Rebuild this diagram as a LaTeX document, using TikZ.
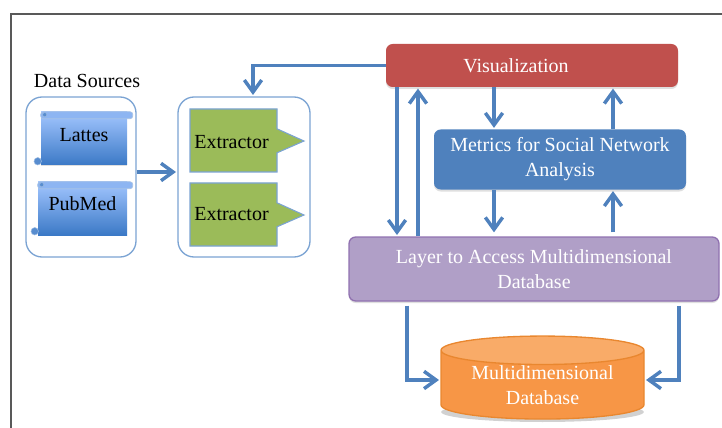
\documentclass[tikz,border=0pt]{standalone}
\usepackage{xcolor}
\usepackage{fontspec}
\setmainfont{Liberation Serif}
\usetikzlibrary{positioning}
\usetikzlibrary{arrows.meta}
\usetikzlibrary{shadows}
\usetikzlibrary{shapes.geometric}
\usetikzlibrary{shapes.callouts}
\definecolor{arrowblue}{HTML}{4F81BD}
\definecolor{boxline}{HTML}{7BA3D3}
\definecolor{vispink}{HTML}{C0504D}
\definecolor{layerpurple}{HTML}{B09FC7}
\definecolor{layerline}{HTML}{9071B0}
\definecolor{extractgreen}{HTML}{9BBB59}
\definecolor{dborange}{HTML}{F79646}
\definecolor{dbtop}{HTML}{F9AB68}
\definecolor{dbline}{HTML}{E9872F}
\definecolor{scrolltop}{HTML}{A3C6FF}
\definecolor{scrollbottom}{HTML}{3B79C6}
\definecolor{scrollbar}{HTML}{8DB5F2}
\tikzset{edge/.style = {-{Straight Barb[length=9pt,width=13pt,line width=2.6pt]},color=arrowblue,line width=2.8pt,shorten >=1pt}}
\newcommand{\px}{0.75pt}

\begin{document}
\begin{tikzpicture}[x=0.75pt,y=-0.75pt,
    every node/.style={font=\fontsize{15}{18.75}\selectfont,align=center,inner sep=0pt},
    group box/.style={rectangle,draw=boxline,line width=1pt,rounded corners=12pt},
    scroll node/.style={rectangle,top color=scrolltop,bottom color=scrollbottom,minimum height=53*\px,
        drop shadow={shadow xshift=0pt,shadow yshift=-1pt,opacity=.25}},
    scroll part/.style={fill=scrollbar,draw=scrollbottom!45,line width=.5pt,rounded corners=2pt},
    scroll curl/.style={fill=scrollbottom!85,draw=scrollbottom!50,line width=.4pt},
    extractor node/.style={rectangle callout,fill=extractgreen,draw=boxline,line width=.8pt,
        minimum width=87*\px,minimum height=63*\px,callout pointer width=24*\px},
    main node/.style={rectangle,rounded corners=5pt,text=white,
        drop shadow={shadow xshift=0pt,shadow yshift=-1.5pt,opacity=.25}},
    db node/.style={cylinder,shape border rotate=90,aspect=0.2,minimum width=203*\px,minimum height=83*\px,
        cylinder uses custom fill,cylinder body fill=dborange,cylinder end fill=dbtop,
        draw=dbline,line width=1pt,text=white}]
    \useasboundingbox (0,0) rectangle (722,428);
    \draw[draw=black!65,line width=1pt] (11,428) -- (11,14) -- (722,14);

    \node (title) at (87,81) {Data Sources};
    \node[group box,minimum width=110*\px,minimum height=160*\px] (sources) at (81,177) {};
    \node[group box,minimum width=132*\px,minimum height=160*\px] (extractors) at (244,177) {};

    \node[scroll node,minimum width=86*\px] (lattes) at (84,138.5) {\raisebox{5pt}{Lattes}};
    \node[scroll node,minimum width=89*\px] (pubmed) at (82.5,208.5) {\raisebox{7.5pt}{PubMed}};
    \draw[scroll part] (lattes.north west) rectangle +(92,7);
    \draw[scroll part] (pubmed.north west) rectangle +(95,7);
    \draw[scroll curl] (lattes.north west) ++(4,3) circle[radius=1.6pt];
    \draw[scroll curl] (pubmed.north west) ++(4,3) circle[radius=1.6pt];
    \draw[scroll curl] (lattes.south west) ++(-3,-4) circle[radius=2.8pt];
    \draw[scroll curl] (pubmed.south west) ++(-3,-4) circle[radius=2.8pt];

    \node[extractor node,callout absolute pointer={(304,141)}] (ext1) at (233.5,140.5) {\rule{0pt}{12pt}Extractor\hspace{3pt}};
    \node[extractor node,callout absolute pointer={(304,215)},below of=ext1,node distance=74*\px] (ext2) {\raisebox{1pt}{Extractor}\hspace{3pt}};

    \node[main node,fill=vispink,minimum width=292*\px,minimum height=43*\px] (vis) at (532,65.5) {Visualization\hspace{24pt}};
    \node[main node,fill=arrowblue,minimum width=252*\px,minimum height=60*\px] (metrics) at (560,159.5) {Metrics for Social Network\\Analysis};
    \node[main node,fill=layerpurple,draw=layerline,line width=1pt,minimum width=370*\px,minimum height=64*\px] (layer) at (534,269) {Layer to Access Multidimensional\\Database};
    \fill[black,opacity=.18] (542.5,412) ellipse[x radius=76pt,y radius=7.5pt];
    \node[db node] (db) at (542.5,385) {Multidimensional\\Database};

    \coordinate (c1) at (397,0);
    \coordinate (c2) at (418,0);
    \coordinate (c3) at (494,0);
    \coordinate (c4) at (613,0);
    \coordinate (c5) at (407,0);
    \coordinate (c6) at (679,0);

    \draw[edge] (vis.west) -| ([xshift=9*\px]extractors.north);
    \path[edge] ([yshift=3.75pt]sources.east) edge ([yshift=3.75pt]extractors.west);
    \path[edge] (vis.south -| c1) edge (layer.north -| c1);
    \path[edge] (layer.north -| c2) edge (vis.south -| c2);
    \path[edge] (vis.south -| c3) edge (metrics.north -| c3);
    \path[edge] (metrics.north -| c4) edge (vis.south -| c4);
    \path[edge,shorten >=3pt] (metrics.south -| c3) edge (layer.north -| c3);
    \path[edge,shorten <=3pt] (layer.north -| c4) edge (metrics.south -| c4);
    \draw[edge,shorten <=3pt] (layer.south -| c5) |- ([yshift=3.75pt]db.west);
    \draw[edge,shorten <=3pt] (layer.south -| c6) |- ([yshift=3.75pt]db.east);
\end{tikzpicture}
\end{document}
